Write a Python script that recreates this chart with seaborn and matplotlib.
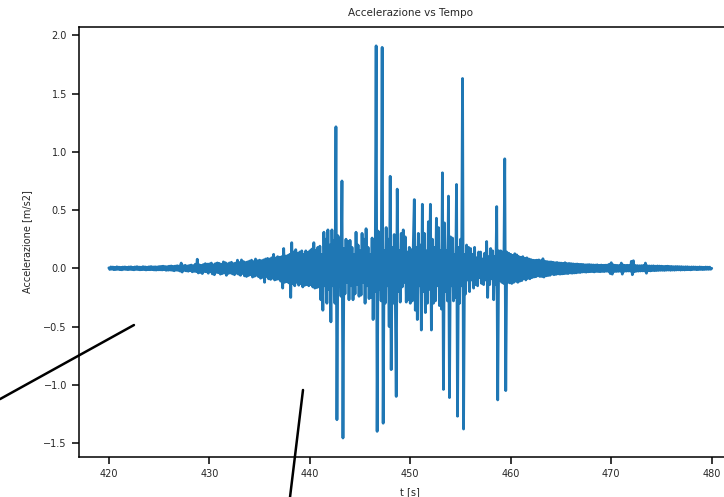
import numpy as np
import pandas as pd
import matplotlib
matplotlib.use("Agg")
import matplotlib.pyplot as plt
from matplotlib.lines import Line2D
import seaborn as sns

# sample clock: 420 s to 480 s, every 0.1 s (one row = one second)
t_start = 420.0
t_step = 0.1

acc = [
    0.004, -0.010, 0.012, -0.008, 0.011, -0.012, 0.009, -0.011, 0.013, -0.009,   # 420
    0.010, -0.012, 0.008, -0.013, 0.011, -0.009, 0.012, -0.010, 0.009, -0.012,   # 421
    0.012, -0.010, 0.013, -0.011, 0.009, -0.013, 0.012, -0.010, 0.014, -0.011,   # 422
    0.011, -0.013, 0.010, -0.012, 0.014, -0.011, 0.012, -0.014, 0.010, -0.012,   # 423
    0.013, -0.012, 0.015, -0.011, 0.012, -0.014, 0.013, -0.015, 0.012, -0.013,   # 424
    0.015, -0.013, 0.016, -0.014, 0.018, -0.012, 0.015, -0.017, 0.014, -0.016,   # 425
    0.018, -0.015, 0.020, -0.017, 0.016, -0.021, 0.019, -0.016, 0.022, -0.018,   # 426
    0.020, -0.024, 0.045, -0.032, 0.022, -0.018, 0.026, -0.022, 0.020, -0.025,   # 427
    0.024, -0.020, 0.028, -0.030, 0.022, -0.026, 0.035, -0.028, 0.078, -0.040,   # 428
    0.030, -0.035, 0.025, -0.045, 0.032, -0.028, 0.040, -0.030, 0.036, -0.042,   # 429
    0.038, -0.030, 0.045, -0.048, 0.030, -0.055, 0.040, -0.035, 0.046, -0.038,   # 430
    0.042, -0.050, 0.035, -0.045, 0.055, -0.040, 0.048, -0.060, 0.038, -0.044,   # 431
    0.046, -0.040, 0.052, -0.048, 0.040, -0.055, 0.045, -0.042, 0.070, -0.050,   # 432
    0.050, -0.060, 0.072, -0.045, 0.058, -0.065, 0.050, -0.070, 0.055, -0.062,   # 433
    0.062, -0.055, 0.070, -0.075, 0.058, -0.068, 0.080, -0.060, 0.065, -0.072,   # 434
    0.070, -0.085, 0.065, -0.078, 0.072, -0.120, 0.080, -0.070, 0.085, -0.090,   # 435
    0.080, -0.095, 0.090, -0.085, 0.120, -0.100, 0.088, -0.095, 0.100, -0.092,   # 436
    0.095, -0.110, 0.100, -0.170, 0.170, -0.120, 0.105, -0.115, 0.110, -0.125,   # 437
    0.120, -0.250, 0.220, -0.130, 0.140, -0.150, 0.160, -0.120, 0.130, -0.145,   # 438
    0.140, -0.130, 0.150, -0.160, 0.120, -0.145, 0.150, -0.140, 0.135, -0.150,   # 439
    0.150, -0.140, 0.165, -0.160, 0.220, -0.170, 0.155, -0.165, 0.180, -0.160,   # 440
    0.190, -0.270, 0.120, -0.360, 0.310, -0.150, 0.250, -0.300, 0.330, -0.180,   # 441
    0.200, -0.460, 0.330, -0.150, 0.240, -0.300, 1.215, -1.300, 0.280, -0.150,   # 442
    0.260, -0.240, 0.750, -1.457, 0.170, -0.220, 0.250, -0.120, 0.230, -0.270,   # 443
    0.240, -0.150, 0.180, -0.270, 0.120, -0.220, 0.310, -0.140, 0.200, -0.240,   # 444
    0.150, -0.230, 0.300, -0.120, 0.250, -0.300, 0.340, -0.150, 0.180, -0.260,   # 445
    0.120, -0.250, 0.260, -0.440, 0.150, -0.200, 1.910, -1.400, 0.320, -0.180,   # 446
    0.200, -0.280, 1.897, -1.330, 0.150, -0.300, 0.350, -0.150, 0.250, -0.500,   # 447
    0.790, -0.870, 0.180, -0.300, 0.290, -0.150, -1.100, 0.680, -0.200, 0.150,   # 448
    -0.290, 0.300, -0.160, 0.330, -0.120, 0.270, -0.290, 0.140, -0.270, 0.180,   # 449
    -0.300, 0.160, -0.280, 0.200, 0.590, -0.360, 0.180, -0.440, 0.300, -0.150,   # 450
    0.200, -0.530, 0.550, -0.200, 0.300, -0.380, 0.150, -0.300, 0.400, -0.180,   # 451
    0.550, -0.530, 0.250, -0.300, 0.180, -0.280, 0.430, -0.150, 0.350, -0.320,   # 452
    0.150, -0.350, 0.820, -1.040, 0.390, -0.200, 0.150, -0.280, 0.620, -1.110,   # 453
    0.270, -0.150, 0.260, -0.280, 0.120, -0.250, 0.720, -1.270, 0.180, -0.300,   # 454
    0.250, -0.150, 1.630, -1.380, 0.120, -0.220, 0.200, -0.100, 0.180, -0.200,   # 455
    0.170, -0.100, 0.120, -0.170, 0.180, -0.140, 0.090, -0.150, 0.140, -0.080,   # 456
    0.140, -0.130, 0.080, -0.140, 0.130, -0.100, 0.230, -0.250, 0.100, -0.140,   # 457
    0.170, -0.090, 0.150, -0.270, 0.100, -0.140, 0.530, -1.130, 0.150, -0.100,   # 458
    0.150, -0.120, 0.140, -0.130, 0.940, -1.050, 0.140, -0.120, 0.130, -0.125,   # 459
    0.120, -0.130, 0.110, -0.120, 0.125, -0.110, 0.115, -0.120, 0.100, -0.110,   # 460
    0.095, -0.105, 0.100, -0.090, 0.085, -0.100, 0.090, -0.085, 0.080, -0.090,   # 461
    0.075, -0.080, 0.070, -0.075, 0.068, -0.072, 0.070, -0.065, 0.072, -0.070,   # 462
    0.065, -0.070, 0.082, -0.075, 0.060, -0.065, 0.058, -0.062, 0.055, -0.060,   # 463
    0.055, -0.050, 0.052, -0.055, 0.048, -0.052, 0.050, -0.048, 0.046, -0.050,   # 464
    0.045, -0.048, 0.042, -0.046, 0.048, -0.044, 0.040, -0.045, 0.042, -0.040,   # 465
    0.040, -0.042, 0.038, -0.040, 0.036, -0.039, 0.037, -0.035, 0.034, -0.036,   # 466
    0.034, -0.032, 0.033, -0.031, 0.030, -0.033, 0.031, -0.030, 0.032, -0.029,   # 467
    0.030, -0.028, 0.029, -0.031, 0.028, -0.027, 0.030, -0.028, 0.026, -0.029,   # 468
    0.028, -0.027, 0.026, -0.028, 0.027, -0.025, 0.028, -0.026, 0.035, -0.045,   # 469
    0.048, -0.050, 0.030, -0.028, 0.026, -0.027, 0.025, -0.026, 0.024, -0.025,   # 470
    0.045, -0.050, 0.028, -0.026, 0.025, -0.024, 0.026, -0.023, 0.025, -0.024,   # 471
    0.060, -0.055, 0.065, -0.030, 0.024, -0.025, 0.023, -0.024, 0.022, -0.023,   # 472
    0.023, -0.022, 0.024, -0.023, 0.045, -0.042, 0.022, -0.021, 0.020, -0.022,   # 473
    0.020, -0.019, 0.021, -0.020, 0.018, -0.019, 0.020, -0.018, 0.019, -0.017,   # 474
    0.018, -0.017, 0.016, -0.018, 0.017, -0.016, 0.018, -0.015, 0.016, -0.017,   # 475
    0.016, -0.015, 0.014, -0.016, 0.015, -0.014, 0.015, -0.013, 0.014, -0.015,   # 476
    0.014, -0.013, 0.012, -0.014, 0.013, -0.012, 0.013, -0.012, 0.011, -0.013,   # 477
    0.012, -0.011, 0.012, -0.010, 0.011, -0.012, 0.010, -0.011, 0.012, -0.010,   # 478
    0.010, -0.011, 0.009, -0.010, 0.011, -0.009, 0.010, -0.009, 0.010, -0.008,   # 479
    0.000,                                                                       # 480
]

t = np.round(t_start + t_step * np.arange(len(acc)), 1)

x_ticks = [420, 430, 440, 450, 460, 470, 480]
y_ticks = [-1.5, -1.0, -0.5, 0.0, 0.5, 1.0, 1.5, 2.0]

title = "Accelerazione vs Tempo"
xlabel = "t [s]"
ylabel = "Accelerazione [m/s2]"

sns.set_style("ticks")
plt.rcParams["font.family"] = ["DejaVu Sans"]

df = pd.DataFrame({"t": t, "acc": acc})

fig = plt.figure(figsize=(7.24, 4.97), dpi=100)
ax = fig.add_axes([0.1087, 0.0805, 0.916, 0.8652])

sns.lineplot(data=df, x="t", y="acc", ax=ax, color="#1f77b4",
             linewidth=2.0, estimator=None, sort=False)

ax.set_xlim(417.0, 483.0)
ax.set_ylim(-1.62, 2.072)
ax.set_xticks(x_ticks)
ax.set_yticks(y_ticks)
ax.set_xticklabels([str(v) for v in x_ticks])
ax.set_yticklabels([f"{v:.1f}".replace("-", "\u2212") for v in y_ticks])
ax.tick_params(labelsize=7, length=5, width=1.1, pad=3.5,
               color="black", labelcolor="#262626")
for s in ax.spines.values():
    s.set_linewidth(1.1)
    s.set_color("black")
ax.set_title(title, fontsize=7.5, color="#262626", pad=8)
ax.set_xlabel(xlabel, fontsize=7, color="#262626", labelpad=6)
ax.set_ylabel(ylabel, fontsize=7, color="#262626", labelpad=8)

# stray black strokes over the figure
fig.add_artist(Line2D([0.0, 0.185], [0.197, 0.346], transform=fig.transFigure,
                      color="black", linewidth=1.8))
fig.add_artist(Line2D([0.4006, 0.4185], [0.0, 0.2153], transform=fig.transFigure,
                      color="black", linewidth=1.8))

fig.savefig("out.png", dpi=100)
